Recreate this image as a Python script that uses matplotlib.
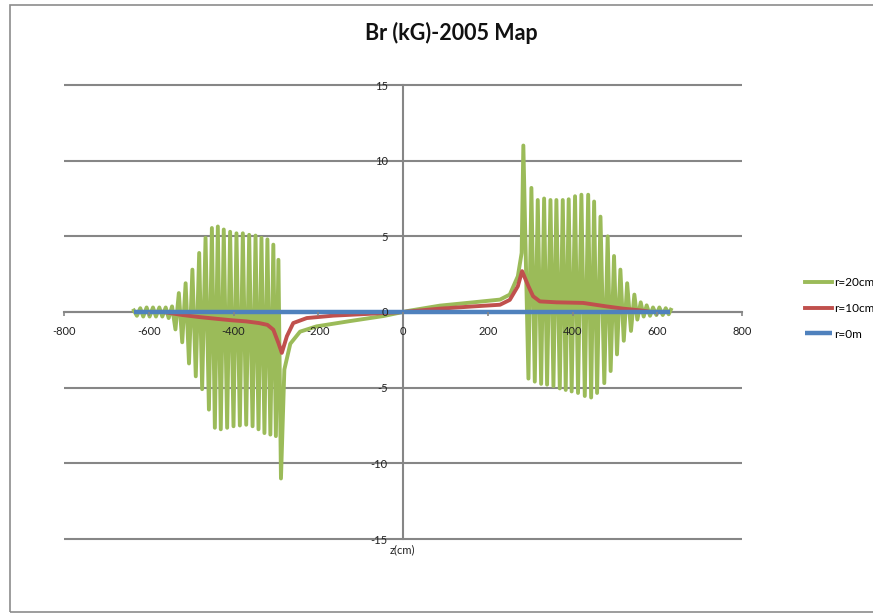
import matplotlib.pyplot as plt
from matplotlib.patches import Rectangle
import numpy as np

plt.rcParams['font.family'] = ['Lato', 'DejaVu Sans']
plt.rcParams['axes.unicode_minus'] = False

# r = 20 cm: ripple maxima and minima over the two coil ends, plus the smooth part between
g_top_left_z = [-635, -620, -605, -590, -575, -560, -545, -529, -513, -497, -481, -466,
                -451, -437, -423, -408, -393, -378, -363, -348, -334, -320, -306, -294]
g_top_left_br = [0.10, 0.25, 0.30, 0.30, 0.30, 0.30, 0.37, 1.25, 1.9, 2.8, 3.9, 4.9,
                 5.55, 5.65, 5.45, 5.3, 5.2, 5.2, 5.1, 5.05, 4.9, 4.8, 4.45, 3.45]
g_bot_left_z = [-628, -613, -598, -583, -568, -553, -537, -521, -505, -489, -474, -458,
                -444, -430, -415, -400, -385, -370, -355, -341, -327, -313, -300, -288]
g_bot_left_br = [-0.25, -0.3, -0.3, -0.3, -0.3, -0.4, -1.15, -2.0, -3.4, -4.25, -5.1, -6.45,
                 -7.65, -7.75, -7.65, -7.55, -7.5, -7.45, -7.55, -7.75, -8.0, -8.1, -8.2, -11.0]
g_mid_z = [-280, -266, -243, -204, -125, -47, 0, 16, 87, 166, 229, 252, 271, 280]
g_mid_br = [-3.8, -2.1, -1.3, -0.95, -0.6, -0.27, 0.0, 0.09, 0.42, 0.64, 0.82, 1.15, 2.36, 3.9]
g_top_right_z = [284, 303, 318, 333, 348, 362, 377, 391, 406, 421, 437, 451,
                 466, 483, 498, 513, 529, 546, 561, 575, 590, 605, 620, 632]
g_top_right_br = [11.0, 8.2, 7.4, 7.5, 7.4, 7.4, 7.4, 7.45, 7.65, 7.75, 7.75, 7.3,
                  6.3, 5.0, 3.7, 2.8, 1.9, 1.15, 0.64, 0.44, 0.3, 0.3, 0.25, 0.15]
g_bot_right_z = [296, 311, 326, 340, 355, 370, 384, 398, 413, 429, 444, 458,
                 475, 490, 505, 521, 538, 553, 568, 583, 598, 613, 627]
g_bot_right_br = [-4.4, -4.6, -4.75, -4.8, -4.9, -5.05, -5.15, -5.25, -5.35, -5.55, -5.65, -5.35,
                  -4.7, -3.9, -2.8, -1.9, -1.25, -0.5, -0.3, -0.25, -0.2, -0.2, -0.15]

# r = 10 cm
r10_z = [-565, -520, -482, -440, -403, -370, -340, -320, -306, -294, -286, -274, -259,
         -227, -164, -86, 0, 16, 87, 166, 229, 252, 271, 281, 296, 307, 323, 362, 425,
         480, 520, 559, 575]
r10_br = [0.0, -0.2, -0.33, -0.45, -0.55, -0.62, -0.73, -0.85, -1.17, -2.05, -2.7, -1.6, -0.73,
          -0.4, -0.24, -0.13, 0.0, 0.04, 0.22, 0.37, 0.48, 0.8, 1.7, 2.7, 1.7, 1.04, 0.7, 0.64, 0.6,
          0.37, 0.22, 0.11, 0.05]

# r = 0 (on axis)
r0_z = [-635, 630]
r0_br = [0.0, 0.0]

labels = ['r=20cm', 'r=10cm', 'r=0m']
colors = ['#9BBB59', '#C0504D', '#4F81BD']

# merge the r=20cm pieces into one trace ordered along z
g_z = np.array(g_top_left_z + g_bot_left_z + g_mid_z + g_top_right_z + g_bot_right_z)
g_br = np.array(g_top_left_br + g_bot_left_br + g_mid_br + g_top_right_br + g_bot_right_br)
order = np.argsort(g_z, kind='stable')
g_z, g_br = g_z[order], g_br[order]

W, H = 873, 613
fig = plt.figure(figsize=(W / 100, H / 100), dpi=100)
ax = fig.add_axes([64 / W, 1 - 539 / H, (742 - 64) / W, (539 - 85) / H])

grid_col = '#868686'
ax.set_xlim(-800, 800)
ax.set_ylim(-15, 15)
ax.hlines(np.arange(-15, 16, 5), -800, 800, color=grid_col, lw=1.5, clip_on=False, zorder=1)

l1, = ax.plot(g_z, g_br, color=colors[0], lw=2.8, solid_joinstyle='round', zorder=3)
l2, = ax.plot(r10_z, r10_br, color=colors[1], lw=2.8, solid_joinstyle='round', zorder=4)
l3, = ax.plot(r0_z, r0_br, color=colors[2], lw=3.2, solid_capstyle='butt', zorder=5)

for s in ['top', 'right']:
    ax.spines[s].set_visible(False)
ax.spines['left'].set_position(('data', 0))
ax.spines['bottom'].set_position(('data', 0))
ax.spines['left'].set_color(grid_col)
ax.spines['bottom'].set_color(grid_col)
ax.spines['left'].set_linewidth(1.5)
ax.spines['bottom'].set_linewidth(1.5)
ax.spines['left'].set_zorder(2)
ax.spines['bottom'].set_zorder(2)

ax.set_xticks(np.arange(-800, 801, 200))
ax.set_yticks(np.arange(-15, 16, 5))
ax.tick_params(axis='x', direction='out', length=3, width=1.2, color=grid_col,
               pad=7, labelsize=8, labelcolor='#222222')
ax.tick_params(axis='y', length=0, pad=11, labelsize=8, labelcolor='#222222')
ax.xaxis.set_zorder(6)
ax.yaxis.set_zorder(6)
ax.patch.set_alpha(0)

fig.text(451 / W, 1 - 33 / H, 'Br (kG)-2005 Map', ha='center', va='center',
         fontsize=15.5, fontweight='bold', color='#111111')
fig.text(402 / W, 1 - 550 / H, 'z(cm)', ha='center', va='center', fontsize=8, color='#222222')

fig.legend([l1, l2, l3], labels, loc='upper left', bbox_to_anchor=(805 / W, 1 - 277 / H),
           frameon=False, fontsize=8.5, handlelength=2.3, handletextpad=0.15,
           labelspacing=1.25, borderpad=0, borderaxespad=0)

# chart frame, running off the right edge
fig.patches.append(Rectangle((10 / W, 1 - 611.5 / H), 1.0, (611.5 - 4.5) / H,
                             transform=fig.transFigure, fill=False, ec='#8C8C8C', lw=1.2))

fig.savefig('out.png', dpi=100)
